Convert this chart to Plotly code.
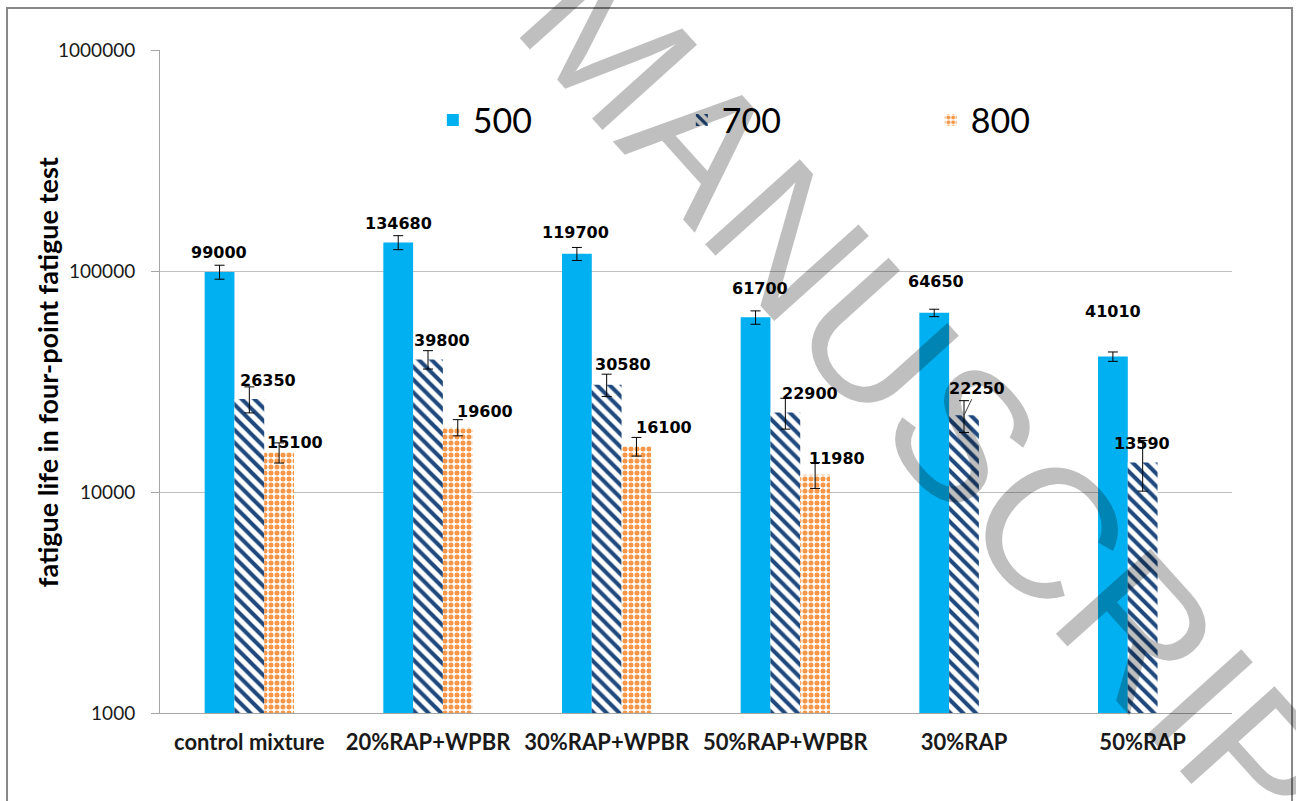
import math
import plotly.graph_objects as go

# Mixtures and fatigue life (cycles) at three strain levels (microstrain)
categories = ["control mixture", "20%RAP+WPBR", "30%RAP+WPBR", "50%RAP+WPBR", "30%RAP", "50%RAP"]
strain_levels = ["500", "700", "800"]

life_500 = [99000, 134680, 119700, 61700, 64650, 41010]
life_700 = [26350, 39800, 30580, 22900, 22250, 13590]
life_800 = [15100, 19600, 16100, 11980, None, None]

err_500 = [7200, 9800, 8100, 4300, 2500, 2000]
err_700 = [3550, 3800, 3550, 3650, 3650, 3500]
err_800 = [1580, 1650, 1560, 1600, None, None]

y_ticks = [1000, 10000, 100000, 1000000]
y_tick_text = ["1000", "10000", "100000", "1000000"]

# Data-label placement (pixel offsets from the bar top / group centre)
label_dx = {
    "500": [-30, -30, -31, -25, -28, -30],
    "700": [19, 14, 16, 25, 13, -1],
    "800": [46, 57, 57, 52, 0, 0],
}
label_dy = {
    "500": [19, 19, 21, 29, 31, 45],
    "700": [19, 19, 20, 19, 27, 19],
    "800": [10, 16, 19, 16, 0, 0],
}

values = {"500": life_500, "700": life_700, "800": life_800}
errors = {"500": err_500, "700": err_700, "800": err_800}

styles = {
    "500": dict(color="#00B0F0"),
    "700": dict(color="white",
                pattern=dict(shape="\\", fgcolor="#1F497D", bgcolor="white",
                             size=9, solidity=0.45, fillmode="replace")),
    "800": dict(color="white",
                pattern=dict(shape=".", fgcolor="#F79646", bgcolor="white",
                             size=6, solidity=0.55, fillmode="replace")),
}

fig = go.Figure()
for s in strain_levels:
    fig.add_bar(
        name=s,
        x=categories,
        y=values[s],
        marker=dict(line=dict(width=0), **styles[s]),
        error_y=dict(type="data", array=errors[s], symmetric=True,
                     color="black", thickness=1, width=5),
    )

annotations = []

# Large diagonal watermark across the chart
annotations.append(dict(
    text="ACCEPTED MANUSCRIPT", xref="paper", yref="paper",
    x=0.4216, y=1.0075, xanchor="center", yanchor="middle",
    textangle=48, showarrow=False,
    font=dict(family="Liberation Sans", size=185, color="rgba(0,0,0,0.25)"),
))

# Value labels above each bar
for s in strain_levels:
    for i, cat in enumerate(categories):
        v = values[s][i]
        if v is None:
            continue
        ann = dict(
            x=cat, y=math.log10(v), xref="x", yref="y",
            text=f"{v}", showarrow=False,
            xshift=label_dx[s][i], yshift=label_dy[s][i],
            xanchor="center", yanchor="middle",
            font=dict(family="DejaVu Sans", size=16, color="black", weight="bold"),
        )
        if s == "700" and cat == "30%RAP":
            # crowded label: pull it aside with a short leader line
            ann.update(showarrow=True, arrowhead=0, arrowwidth=1, arrowcolor="#404040",
                       ax=13, ay=-27, xshift=0, yshift=0)
        annotations.append(ann)

# Y-axis title
annotations.append(dict(
    text="fatigue life in four-point fatigue test", xref="paper", yref="paper",
    x=-0.1054, y=0.514, xanchor="center", yanchor="middle", textangle=-90,
    showarrow=False,
    font=dict(family="Lato", size=27, color="black", weight="bold"),
))

fig.update_layout(
    width=1296, height=801,
    margin=dict(l=160, r=64, t=50, b=88),
    paper_bgcolor="white", plot_bgcolor="white",
    barmode="group", bargap=0.5, bargroupgap=0,
    showlegend=True,
    legend=dict(
        orientation="h", x=0.2545, y=0.894, xanchor="left", yanchor="middle",
        font=dict(family="Lato", size=34, color="black"),
        entrywidthmode="pixels", entrywidth=204,
        bgcolor="rgba(0,0,0,0)",
    ),
    xaxis=dict(
        showline=True, linecolor="#A6A6A6", linewidth=1,
        ticks="", showgrid=False,
        tickfont=dict(family="Lato", size=22, color="#1a1a1a", weight="bold"),
        ticklabelstandoff=10,
    ),
    yaxis=dict(
        type="log", range=[3, 6],
        tickvals=y_ticks, ticktext=y_tick_text,
        showline=True, linecolor="#A6A6A6", linewidth=1,
        ticks="outside", ticklen=8, tickcolor="#A6A6A6",
        showgrid=True, gridcolor="#BFBFBF", gridwidth=1,
        tickfont=dict(family="Lato", size=19, color="#1a1a1a"),
        ticklabelstandoff=12,
        zeroline=False,
    ),
    annotations=annotations,
    shapes=[dict(
        type="rect", xref="paper", yref="paper",
        x0=-0.1427, x1=1.056, y0=-0.2, y1=1.0633,
        line=dict(color="#878787", width=2), fillcolor="rgba(0,0,0,0)",
        layer="below",
    )],
)

fig.write_html("out.html")
